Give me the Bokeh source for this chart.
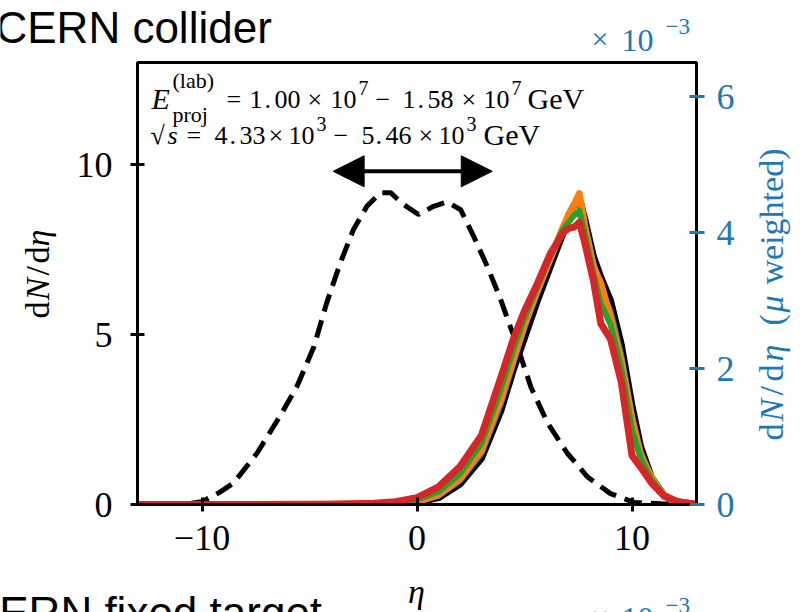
import math
from bokeh.plotting import figure
from bokeh.layouts import column, row
from bokeh.models import Range1d, LinearAxis, Label, Arrow, NormalHead, FixedTicker
from bokeh.embed import file_html
from bokeh.resources import INLINE

# ---------------- data ----------------
# pseudorapidity distribution of charged particles (left axis, dashed)
eta_ch = [-13, -11, -10, -9.2, -8.55, -7.45, -6.4, -5.6, -4.8, -4.2, -3.57, -2.96,
          -2.33, -1.7, -1.23, -0.62, 0.07, 0.77, 1.4, 2.03, 2.64, 3.27, 3.85, 4.68,
          5.3, 6.08, 7.0, 7.95, 9.0, 10.1, 11.35, 13]
dndeta_ch = [0, 0, 0.08, 0.35, 0.62, 1.5, 2.57, 3.45, 4.63, 5.93, 7.1, 8.08,
             8.77, 9.17, 9.17, 8.82, 8.53, 8.77, 8.9, 8.67, 7.88, 7.0, 6.1, 4.63,
             3.45, 2.39, 1.5, 0.8, 0.32, 0.06, 0.02, 0]

# muon-weighted distributions (right axis, in units of 1e-3)
eta_mu = [-13, -8, -4, -2, -1, 0, 1, 2, 3, 3.9, 4.5, 5.0, 5.6, 6.2, 6.8, 7.05,
          7.3, 7.55, 7.8, 8.2, 8.55, 9.0, 9.5, 10.0, 10.4, 10.9, 11.5, 12.1, 13]
mu_black = [0, 0, 0.001, 0.005, 0.01, 0.03, 0.1, 0.3, 0.68, 1.38, 2.0, 2.45, 3.0,
            3.5, 4.0, 4.25, 4.4, 4.5, 4.2, 3.65, 3.34, 3.0, 2.35, 1.45, 0.85, 0.4,
            0.13, 0.04, 0]
mu_blue = [0, 0, 0.002, 0.007, 0.014, 0.04, 0.13, 0.35, 0.75, 1.48, 2.1, 2.6, 3.12,
           3.6, 4.07, 4.25, 4.38, 4.45, 4.12, 3.55, 3.15, 2.85, 2.2, 1.3, 0.78, 0.4,
           0.13, 0.04, 0]
mu_orange = [0, 0, 0.002, 0.008, 0.016, 0.045, 0.14, 0.38, 0.8, 1.55, 2.15, 2.65,
             3.15, 3.62, 4.08, 4.25, 4.4, 4.57, 4.1, 3.5, 3.25, 2.75, 2.1, 1.25, 0.72,
             0.4, 0.13, 0.04, 0]
mu_green = [0, 0, 0.003, 0.012, 0.025, 0.07, 0.19, 0.45, 0.9, 1.7, 2.3, 2.75, 3.2,
            3.65, 4.05, 4.15, 4.25, 4.32, 4.0, 3.4, 2.95, 2.65, 2.0, 1.1, 0.68, 0.36,
            0.13, 0.04, 0]
mu_red = [0, 0, 0.005, 0.02, 0.04, 0.1, 0.26, 0.56, 1.02, 1.87, 2.45, 2.85, 3.25,
          3.69, 4.0, 4.06, 4.08, 4.15, 3.85, 3.3, 2.66, 2.43, 1.8, 0.72, 0.55, 0.32,
          0.12, 0.04, 0]

x_ticks = [-10, 0, 10]
yl_ticks = [0, 5, 10]
yr_ticks = [0, 2, 4, 6]
arrow_x = [-3.9, 3.5]
arrow_y = 9.8

BLUE = "#1f77b4"
SERIF = "Liberation Serif"
SANS = "Liberation Sans"

# ---------------- layout geometry (page pixels) ----------------
W, H = 805, 612
TOP_H = 58
MID_H = 508
BOT_H = H - TOP_H - MID_H
LEFT_W = 70
RIGHT_W = 57
MAIN_W = W - LEFT_W - RIGHT_W
FL, FR, FT, FB = 137, 696, 62, 504
BT = FT - TOP_H
BB = TOP_H + MID_H - FB
ADJ = 0.27   # baseline correction (fraction of font size)


def strip(w, h, y0, y1, bt=0, bb=0):
    f = figure(width=w, height=h, x_range=Range1d(0, w), y_range=Range1d(y0, y1),
               x_axis_type=None, y_axis_type=None, output_backend="svg",
               toolbar_location=None, title_location=None, min_border=0,
               min_border_left=0, min_border_right=0, min_border_top=bt,
               min_border_bottom=bb)
    f.grid.visible = False
    f.outline_line_color = None
    f.background_fill_color = "white"
    f.border_fill_color = "white"
    return f


def add_text(fig, text, x, y, size, units="data", font=SERIF, style="normal",
             color="black", align="left", angle=0.0):
    if angle:
        x -= ADJ * size
    else:
        y += ADJ * size
    fig.add_layout(Label(x=x, y=y, x_units=units, y_units=units, text=text,
                         text_font=font, text_font_size=f"{size}px",
                         text_font_style=style, text_color=color, text_align=align,
                         text_baseline="alphabetic", angle=angle))


# ---------------- main figure ----------------
p = figure(width=MAIN_W, height=MID_H, x_range=Range1d(-13, 13), y_range=Range1d(0, 13),
           output_backend="svg", toolbar_location=None, title_location=None,
           min_border_left=FL - LEFT_W, min_border_right=(W - RIGHT_W) - FR,
           min_border_top=BT, min_border_bottom=BB)
p.extra_y_ranges = {"mu": Range1d(0, 6.5)}
p.grid.visible = False
p.outline_line_color = "black"
p.outline_line_width = 3
p.background_fill_color = "white"
p.border_fill_color = "white"

for ax in (p.xaxis[0], p.yaxis[0]):
    ax.axis_line_width = 3
    ax.major_tick_line_width = 3
    ax.major_tick_in = 7
    ax.major_tick_out = 7
    ax.minor_tick_line_color = None
    ax.major_label_text_font = SERIF
    ax.major_label_text_font_size = "36px"
    ax.major_label_text_color = "black"
p.xaxis[0].ticker = FixedTicker(ticks=x_ticks)
p.xaxis[0].major_label_overrides = {t: ("\u2212" + str(abs(t)) if t < 0 else str(t)) for t in x_ticks}
p.xaxis[0].major_label_standoff = 14
p.yaxis[0].ticker = FixedTicker(ticks=yl_ticks)
p.yaxis[0].major_label_standoff = 18

rax = LinearAxis(y_range_name="mu", ticker=FixedTicker(ticks=yr_ticks))
rax.axis_line_width = 3
rax.axis_line_color = "black"
rax.major_tick_line_width = 3
rax.major_tick_line_color = BLUE
rax.major_tick_in = 7
rax.major_tick_out = 8
rax.minor_tick_line_color = None
rax.major_label_text_font = SERIF
rax.major_label_text_font_size = "36px"
rax.major_label_text_color = BLUE
rax.major_label_standoff = 12
p.add_layout(rax, "right")

p.line(eta_ch, dndeta_ch, line_color="black", line_width=5, line_dash="18 9")
for vals, col, lw in ((mu_black, "black", 7), (mu_blue, BLUE, 6), (mu_orange, "#ff7f0e", 7),
                      (mu_green, "#2ca02c", 6), (mu_red, "#d62728", 7)):
    p.line(eta_mu, vals, line_color=col, line_width=lw, y_range_name="mu",
           line_join="round")

p.add_layout(Arrow(start=NormalHead(size=31, fill_color="black", line_color="black"),
                   end=NormalHead(size=31, fill_color="black", line_color="black"),
                   x_start=arrow_x[0], y_start=arrow_y, x_end=arrow_x[1], y_end=arrow_y,
                   line_width=4, line_color="black"))


def ftext(text, ix, iy, size, **kw):
    # page pixel position -> screen units relative to the frame
    add_text(p, text, ix - FL, FB - iy, size, units="screen", **kw)


B1, B2, S1, S2 = 106, 142, 93, 129
FS, SS = 26, 20
ftext("E", 151, B1, 30, style="italic")
ftext("(lab)", 172, 86, 22)
ftext("proj", 172, 120, 22)
for t, x in (("=", 226), ("1", 249), (".", 264), ("00", 274), ("\u00d7", 307),
             ("10", 330), ("\u2212", 375), ("1", 402), (".", 417), ("58", 427),
             ("\u00d7", 461), ("10", 483)):
    ftext(t, x, B1, FS)
ftext("GeV", 527, B1, 30)
ftext("7", 358, S1, SS)
ftext("7", 511, S1, SS)
ftext("\u221a", 150, B2, FS)
ftext("s", 167, B2, FS, style="italic")
for t, x in (("=", 186), ("4", 214), (".", 229), ("33", 239), ("\u00d7", 268),
             ("10", 288), ("\u2212", 333), ("5", 361), (".", 375), ("46", 385),
             ("\u00d7", 418), ("10", 438)):
    ftext(t, x, B2, FS)
ftext("GeV", 483, B2, 30)
ftext("3", 316, S2, SS)
ftext("3", 466, S2, SS)

# ---------------- strips with the outer texts ----------------
top = strip(W, TOP_H, 0, TOP_H)
add_text(top, "CERN collider", -5, TOP_H - 39, 44, font=SANS)
add_text(top, "\u00d7", 591, TOP_H - 46, 30, color=BLUE)
add_text(top, "10", 621, TOP_H - 49, 32, color=BLUE)
add_text(top, "\u22123", 665, TOP_H - 32, 23, color=BLUE)

left = strip(LEFT_W, MID_H, 0, FB - FT, bt=BT, bb=BB)
LB = 46
for t, iy, st in (("d", 318, "normal"), ("N", 300, "italic"), ("/", 275, "normal"),
                  ("d", 263, "normal"), ("\u03b7", 246, "italic")):
    add_text(left, t, LB, FB - iy, 34, style=st, angle=math.pi / 2)

right = strip(RIGHT_W, MID_H, 0, FB - FT, bt=BT, bb=BB)
RB = 780 - (W - RIGHT_W)
for t, iy, st in (("d", 440, "normal"), ("N", 421, "italic"), ("/", 395, "normal"),
                  ("d", 381, "normal"), ("\u03b7", 361, "italic"), ("(", 325, "normal"),
                  ("\u03bc", 312, "italic"), ("weighted)", 284, "normal")):
    add_text(right, t, RB, FB - iy, 34, style=st, color=BLUE, angle=math.pi / 2)

bot = strip(W, BOT_H, 0, BOT_H)
add_text(bot, "\u03b7", 416, H - 600, 34, style="italic", align="center")
add_text(bot, "CERN fixed target", -33, H - 624, 44, font=SANS)
add_text(bot, "\u00d7", 591, H - 624, 30, color=BLUE)
add_text(bot, "10", 621, H - 627, 32, color=BLUE)
add_text(bot, "\u22123", 665, H - 611, 23, color=BLUE)

layout = column(top, row(left, p, right), bot)
open("out.html", "w").write(file_html(layout, INLINE))
